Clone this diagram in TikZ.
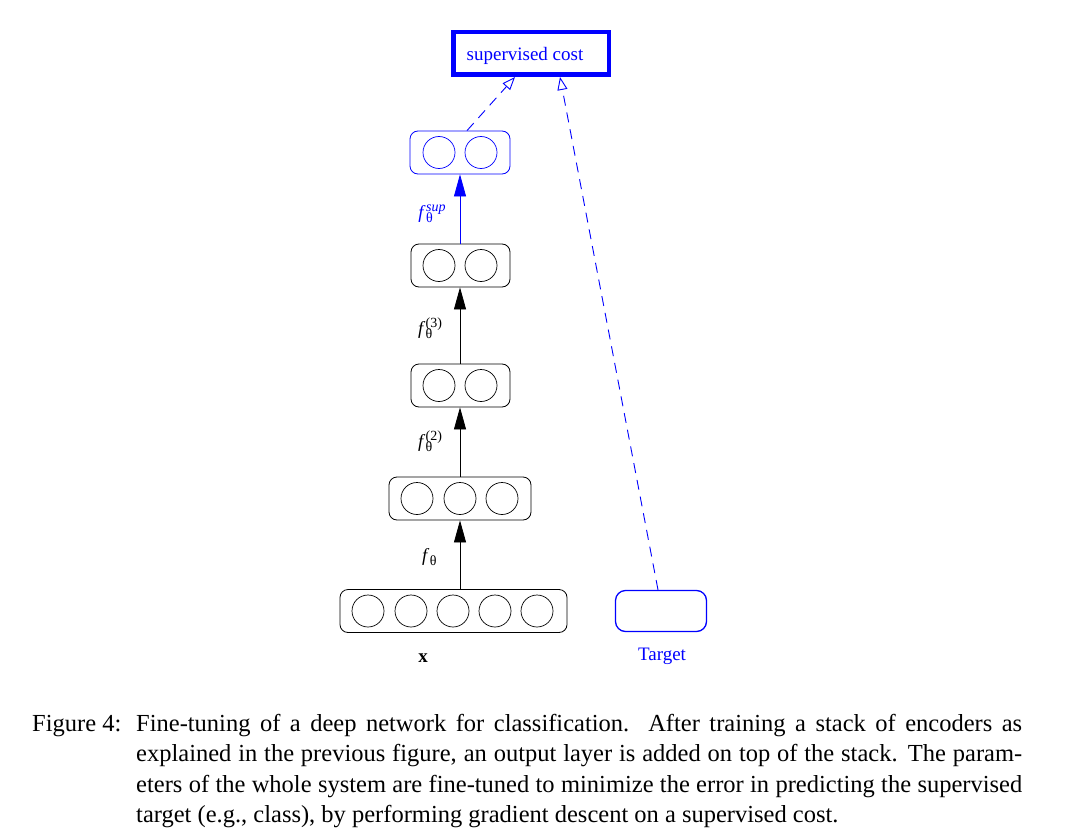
\documentclass[tikz,border=0pt]{standalone}
\usepackage{fontspec}
\setmainfont{Liberation Serif}
\usetikzlibrary{arrows.meta,calc}
\definecolor{pblue}{RGB}{0,0,255}
\newcommand{\flab}[1]{\textit{f}\kern0.3pt\rlap{\raisebox{-4.5pt}{\fontsize{14}{14}\selectfont θ}}\raisebox{7pt}{\fontsize{14}{14}\selectfont #1}}
\begin{document}
\begin{tikzpicture}[x=1pt,y=-1pt,
  layer/.style={draw, rounded corners=8pt, line width=0.8pt, inner sep=0pt, minimum height=43pt},
  unit/.style={circle, draw, line width=0.7pt, minimum size=32pt, inner sep=0pt},
  lbl/.style={font=\fontsize{18.5}{20}\selectfont, inner sep=0pt},
  fwd/.style={line width=0.8pt, -{Triangle[length=22pt,width=12pt]}},
  dsh/.style={pblue, line width=0.9pt, dash pattern=on 10pt off 7pt, -{Triangle[open,length=13pt,width=10pt]}},
  captxt/.style={font=\fontsize{24.5}{30.4}\selectfont, inner sep=0pt}
]
\useasboundingbox (0,0) rectangle (1073,840);

% supervised cost
\node[draw=pblue, line width=4.5pt, minimum width=155.5pt, minimum height=42.5pt, inner sep=0pt] (cost) at (531,53.5) {};
\node[text=pblue, font=\fontsize{19}{21}\selectfont, inner sep=0pt] (costlbl) at (525,55.5) {supervised cost};

% top (supervised) layer
\node[layer, draw=pblue, minimum width=100pt] (top) at (460,152.5) {};
\node[unit, draw=pblue] (t1) at (439,152.5) {};
\node[unit, draw=pblue] (t2) at (481,152.5) {};

% hidden layer 3
\node[layer, minimum width=99pt] (h3) at (460.5,265.5) {};
\node[unit] (h3a) at (439,265.5) {};
\node[unit] (h3b) at (481,265.5) {};

% hidden layer 2
\node[layer, minimum width=99pt] (h2) at (460.5,385.5) {};
\node[unit] (h2a) at (439,385.5) {};
\node[unit] (h2b) at (481,385.5) {};

% hidden layer 1
\node[layer, minimum width=142pt] (h1) at (460,498.5) {};
\node[unit] (h1a) at (417,498.5) {};
\node[unit] (h1b) at (460,498.5) {};
\node[unit] (h1c) at (502,498.5) {};

% input layer
\node[layer, minimum width=227pt] (in) at (453.5,611) {};
\node[unit] (i1) at (368,611) {};
\node[unit] (i2) at (411,611) {};
\node[unit] (i3) at (453,611) {};
\node[unit] (i4) at (495,611) {};
\node[unit] (i5) at (537,611) {};
\node[font=\fontsize{19}{21}\selectfont\bfseries, inner sep=0pt] (xl) at (423,658) {x};

% target
\node[draw=pblue, line width=1.3pt, rounded corners=10pt, minimum width=91pt, minimum height=41pt, inner sep=0pt] (tgt) at (661,611) {};
\node[text=pblue, font=\fontsize{19}{21}\selectfont, inner sep=0pt] (tl) at (662,656) {Target};

% forward arrows
\draw[fwd] (h1.south |- in.north) -- (h1.south);
\draw[fwd] (h1.north) -- (h2.south -| h1.north);
\draw[fwd] (h2.north -| h1.north) -- (h3.south -| h1.north);
\draw[fwd, pblue] (h3.north -| h1.north) -- (top.south);

% labels
\node[lbl] (l1) at (426,557) {\flab{}};
\node[lbl] (l2) at (430,441) {\flab{(2)}};
\node[lbl] (l3) at (430,328) {\flab{(3)}};
\node[lbl, text=pblue] (l4) at (432,214) {\flab{\textit{sup}}};

% dashed arrows to cost
\draw[dsh] ($(top.north)+(7,0)$) -- ($(cost.south)+(-16,0)$);
\draw[dsh] ($(tgt.north)+(-3,0)$) -- ($(cost.south)+(29,0)$);

% caption
\node[captxt, anchor=base west] (figlbl) at (32,731) {Figure 4:};
\node[captxt, anchor=north west, text width=886pt, align=justify] (cap) at (136,714)
{Fine-tuning of a deep network for classification.\ \ After training a stack of encoders as\linebreak explained in the previous figure, an output layer is added on top of the stack. The param-\linebreak eters of the whole system are fine-tuned to minimize the error in predicting the supervised\linebreak target (e.g., class), by performing gradient descent on a supervised cost.};
\end{tikzpicture}
\end{document}
